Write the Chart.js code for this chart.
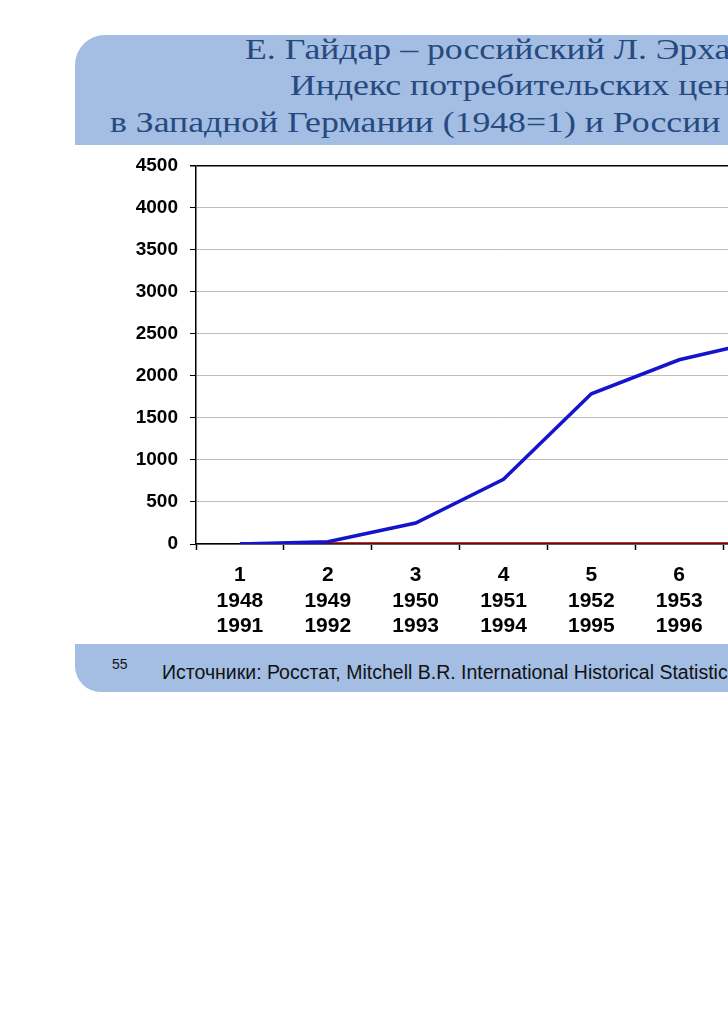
<!DOCTYPE html>
<html lang="ru">
<head>
<meta charset="utf-8">
<title>Индекс потребительских цен</title>
<script src="https://cdn.jsdelivr.net/npm/chart.js@4.4.0/dist/chart.umd.min.js"></script>
<style>
    html, body { margin: 0; padding: 0; width: 728px; height: 1030px; overflow: hidden; background: #fff; }
    .band { position: absolute; left: 75px; width: 1000px; background: #a3bde3; }
    #top { top: 35px; height: 110px; border-top-left-radius: 30px; }
    #bottom { top: 644px; height: 48px; border-bottom-left-radius: 26px; }
    .t { position: absolute; white-space: nowrap; font-family: "Liberation Serif", serif; font-size: 30px; line-height: 30px; color: #264a7f; transform: scaleX(1.19); transform-origin: left top; }
    .f { position: absolute; white-space: nowrap; font-family: "Liberation Sans", Arial, sans-serif; color: #111; }
    #wrap { position: absolute; left: 0; top: 142px; width: 811px; height: 503px; }
</style>
</head>
<body>
<div class="band" id="top"></div>
<div class="band" id="bottom"></div>
<div class="t" style="left:245px; top:34px;">Е. Гайдар – российский Л. Эрхард?</div>
<div class="t" style="left:290px; top:70px;">Индекс потребительских цен</div>
<div class="t" style="left:110px; top:107px;">в Западной Германии (1948=1) и России (1991=1)</div>
<div class="f" style="left:112px; top:656px; font-size:14px;">55</div>
<div class="f" style="left:162px; top:661px; font-size:19.5px;">Источники: Росстат, Mitchell B.R. International Historical Statistics</div>
<div id="wrap"><canvas id="cpiChart"></canvas></div>
<script>
// Порядковые номера лет и годы для двух стран
const yearIndex = ['1', '2', '3', '4', '5', '6', '7'];
const germanyYears = ['1948', '1949', '1950', '1951', '1952', '1953', '1954'];
const russiaYears = ['1991', '1992', '1993', '1994', '1995', '1996', '1997'];

// Индекс цен (первый год = 1)
const russiaCpi = [1, 26, 250, 770, 1785, 2190, 2430];
const germanyCpi = [1, 1.06, 0.99, 1.07, 1.09, 1.07, 1.07];

const yMax = 4500;
const yStep = 500;

const labels = yearIndex.map((n, i) => [n, germanyYears[i], russiaYears[i]]);
const fontFamily = '"Liberation Sans", Arial, sans-serif';

const cpiChart = new Chart(document.getElementById('cpiChart').getContext('2d'), {
    type: 'line',
    data: {
        labels: labels,
        datasets: [{
            label: 'Россия',
            data: russiaCpi,
            borderColor: '#1414cc',
            borderWidth: 3.5,
            pointRadius: 0,
            tension: 0
        }, {
            label: 'Западная Германия',
            data: germanyCpi,
            borderColor: '#800000',
            borderWidth: 3.5,
            pointRadius: 0,
            tension: 0
        }]
    },
    options: {
        responsive: true,
        maintainAspectRatio: false,
        animation: false,
        layout: { padding: 0 },
        plugins: {
            legend: { display: false },
            tooltip: { enabled: false }
        },
        scales: {
            x: {
                offset: true,
                grid: {
                    offset: true,
                    drawOnChartArea: false,
                    tickLength: 6,
                    tickColor: '#000',
                    tickWidth: 1.5
                },
                border: { color: '#000', width: 1.5 },
                ticks: {
                    color: '#000',
                    padding: 13,
                    maxRotation: 0,
                    autoSkip: false,
                    font: { family: fontFamily, size: 21, weight: 'bold', lineHeight: 1.2 }
                },
                afterFit: function(scale) { scale.height = 101; }
            },
            y: {
                min: 0,
                max: yMax,
                grid: {
                    color: ctx => (ctx.tick && ctx.tick.value === yMax) ? '#000' : '#bdbdbd',
                    lineWidth: ctx => (ctx.tick && ctx.tick.value === yMax) ? 1.5 : 1,
                    tickLength: 6,
                    tickColor: '#000'
                },
                border: { color: '#000', width: 1.5 },
                ticks: {
                    stepSize: yStep,
                    color: '#000',
                    padding: 12,
                    font: { family: fontFamily, size: 19, weight: 'bold' },
                    callback: value => String(value) // без разделителей тысяч
                },
                afterFit: function(scale) { scale.width = 196; }
            }
        }
    }
});
</script>
</body>
</html>
